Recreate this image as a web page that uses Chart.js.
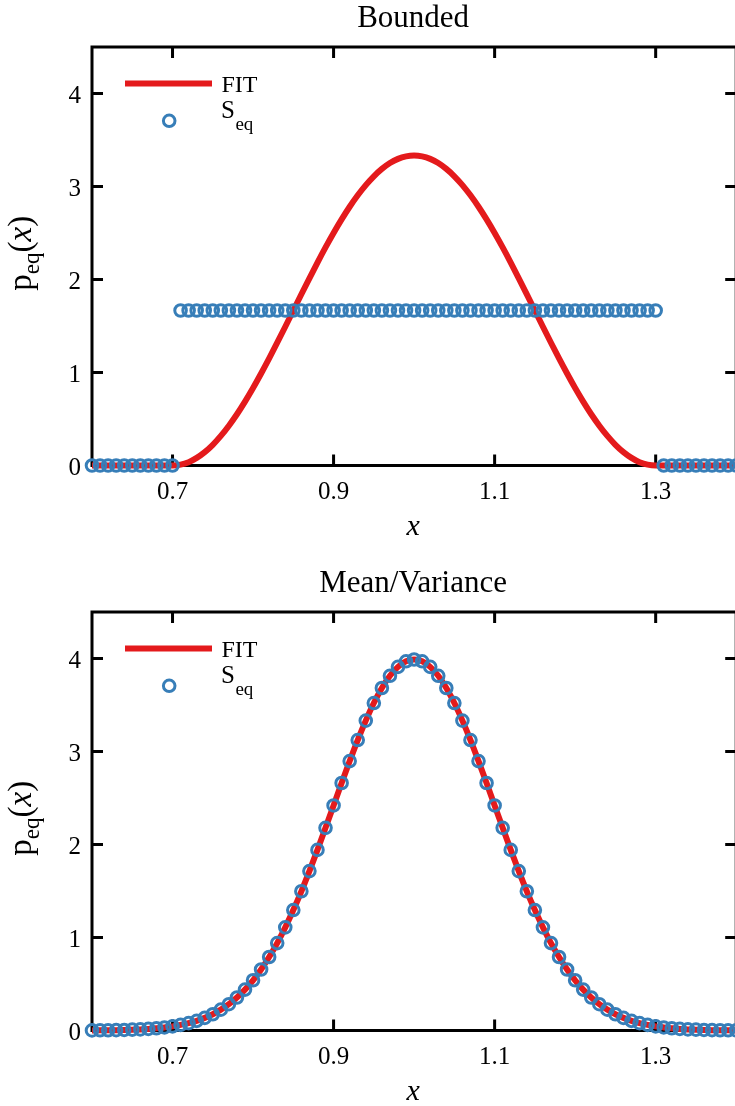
<!DOCTYPE html>
<html>
<head>
<meta charset="utf-8">
<script src="https://cdn.jsdelivr.net/npm/chart.js@4.4.1/dist/chart.umd.min.js"></script>
<style>
  html, body { margin: 0; padding: 0; background: #fff; overflow: hidden; }
  body { width: 735px; height: 1106px; position: relative; }
  .panel { position: absolute; left: 0; }
</style>
</head>
<body>
<canvas id="bounded" class="panel" style="top:0" width="745" height="541"></canvas>
<canvas id="meanvar" class="panel" style="top:565px" width="745" height="541"></canvas>
<script>
// sample grid shared by both panels
const xs = [0.60, 0.61, 0.62, 0.63, 0.64, 0.65, 0.66, 0.67, 0.68, 0.69,
            0.70, 0.71, 0.72, 0.73, 0.74, 0.75, 0.76, 0.77, 0.78, 0.79,
            0.80, 0.81, 0.82, 0.83, 0.84, 0.85, 0.86, 0.87, 0.88, 0.89,
            0.90, 0.91, 0.92, 0.93, 0.94, 0.95, 0.96, 0.97, 0.98, 0.99,
            1.00, 1.01, 1.02, 1.03, 1.04, 1.05, 1.06, 1.07, 1.08, 1.09,
            1.10, 1.11, 1.12, 1.13, 1.14, 1.15, 1.16, 1.17, 1.18, 1.19,
            1.20, 1.21, 1.22, 1.23, 1.24, 1.25, 1.26, 1.27, 1.28, 1.29,
            1.30, 1.31, 1.32, 1.33, 1.34, 1.35, 1.36, 1.37, 1.38, 1.39, 1.40];

// Bounded
const boundedSeq = [0, 0, 0, 0, 0, 0, 0, 0, 0, 0,
                    0, 1.667, 1.667, 1.667, 1.667, 1.667, 1.667, 1.667, 1.667, 1.667,
                    1.667, 1.667, 1.667, 1.667, 1.667, 1.667, 1.667, 1.667, 1.667, 1.667,
                    1.667, 1.667, 1.667, 1.667, 1.667, 1.667, 1.667, 1.667, 1.667, 1.667,
                    1.667, 1.667, 1.667, 1.667, 1.667, 1.667, 1.667, 1.667, 1.667, 1.667,
                    1.667, 1.667, 1.667, 1.667, 1.667, 1.667, 1.667, 1.667, 1.667, 1.667,
                    1.667, 1.667, 1.667, 1.667, 1.667, 1.667, 1.667, 1.667, 1.667, 1.667,
                    1.667, 0, 0, 0, 0, 0, 0, 0, 0, 0, 0];
const boundedFit = [0, 0, 0, 0, 0, 0, 0, 0, 0, 0,
                    0, 0.009, 0.036, 0.082, 0.144, 0.223, 0.318, 0.428, 0.551, 0.687,
                    0.833, 0.989, 1.152, 1.320, 1.492, 1.667, 1.841, 2.013, 2.182, 2.345,
                    2.500, 2.646, 2.782, 2.905, 3.015, 3.110, 3.189, 3.252, 3.297, 3.324,
                    3.333, 3.324, 3.297, 3.252, 3.189, 3.110, 3.015, 2.905, 2.782, 2.646,
                    2.500, 2.345, 2.182, 2.013, 1.841, 1.667, 1.492, 1.320, 1.152, 0.989,
                    0.833, 0.687, 0.551, 0.428, 0.318, 0.223, 0.144, 0.082, 0.036, 0.009,
                    0, 0, 0, 0, 0, 0, 0, 0, 0, 0, 0];

// Mean/Variance
const meanVarSeq = [0.001, 0.002, 0.003, 0.004, 0.006, 0.009, 0.012, 0.017, 0.024, 0.033,
                    0.044, 0.060, 0.079, 0.104, 0.136, 0.175, 0.224, 0.283, 0.355, 0.440,
                    0.540, 0.656, 0.790, 0.940, 1.109, 1.295, 1.497, 1.714, 1.942, 2.179,
                    2.420, 2.661, 2.897, 3.123, 3.332, 3.521, 3.683, 3.814, 3.910, 3.970,
                    3.989, 3.970, 3.910, 3.814, 3.683, 3.521, 3.332, 3.123, 2.897, 2.661,
                    2.420, 2.179, 1.942, 1.714, 1.497, 1.295, 1.109, 0.940, 0.790, 0.656,
                    0.540, 0.440, 0.355, 0.283, 0.224, 0.175, 0.136, 0.104, 0.079, 0.060,
                    0.044, 0.033, 0.024, 0.017, 0.012, 0.009, 0.006, 0.004, 0.003, 0.002, 0.001];
const meanVarFit = [0.001, 0.002, 0.003, 0.004, 0.006, 0.009, 0.012, 0.017, 0.024, 0.033,
                    0.044, 0.060, 0.079, 0.104, 0.136, 0.175, 0.224, 0.283, 0.355, 0.440,
                    0.540, 0.656, 0.790, 0.940, 1.109, 1.295, 1.497, 1.714, 1.942, 2.179,
                    2.420, 2.661, 2.897, 3.123, 3.332, 3.521, 3.683, 3.814, 3.910, 3.970,
                    3.989, 3.970, 3.910, 3.814, 3.683, 3.521, 3.332, 3.123, 2.897, 2.661,
                    2.420, 2.179, 1.942, 1.714, 1.497, 1.295, 1.109, 0.940, 0.790, 0.656,
                    0.540, 0.440, 0.355, 0.283, 0.224, 0.175, 0.136, 0.104, 0.079, 0.060,
                    0.044, 0.033, 0.024, 0.017, 0.012, 0.009, 0.006, 0.004, 0.003, 0.002, 0.001];

const xTicks = [0.7, 0.9, 1.1, 1.3];
const yTicks = [0, 1, 2, 3, 4];

const RED = '#e41a1c';
const BLUE = '#377eb8';
const SERIF = "'Liberation Serif', 'Times New Roman', serif";

function pts(vals) {
  return xs.map((x, i) => ({ x: x, y: vals[i] }));
}

// box, inward ticks, labels, legend
const decor = {
  id: 'decor',
  beforeDatasetsDraw(chart) {
    const ctx = chart.ctx;
    const a = chart.chartArea;
    const sx = chart.scales.x, sy = chart.scales.y;
    ctx.save();
    ctx.strokeStyle = '#000';
    ctx.lineWidth = 3;
    ctx.lineCap = 'butt';
    ctx.beginPath();
    ctx.rect(a.left, a.top, a.right - a.left, a.bottom - a.top);
    sx.ticks.forEach(t => {
      const px = sx.getPixelForValue(t.value);
      ctx.moveTo(px, a.bottom); ctx.lineTo(px, a.bottom - 11);
      ctx.moveTo(px, a.top); ctx.lineTo(px, a.top + 11);
    });
    sy.ticks.forEach(t => {
      const py = sy.getPixelForValue(t.value);
      ctx.moveTo(a.left, py); ctx.lineTo(a.left + 11, py);
      ctx.moveTo(a.right, py); ctx.lineTo(a.right - 11, py);
    });
    ctx.stroke();

    ctx.fillStyle = '#000';
    ctx.font = '25px ' + SERIF;
    ctx.textAlign = 'center';
    ctx.textBaseline = 'alphabetic';
    sx.ticks.forEach(t => {
      ctx.fillText(String(t.value), sx.getPixelForValue(t.value), a.bottom + 33);
    });
    ctx.textAlign = 'right';
    sy.ticks.forEach(t => {
      ctx.fillText(String(t.value), a.left - 11, sy.getPixelForValue(t.value) + 9);
    });

    const cx = (a.left + a.right) / 2;
    ctx.textAlign = 'center';
    ctx.font = '31px ' + SERIF;
    ctx.fillText(chart.options.plugins.decor.title, cx - 1, 27);
    ctx.font = 'italic 30px ' + SERIF;
    ctx.fillText('x', cx - 1, 535);

    // y axis title: p_eq(x), rotated
    ctx.save();
    ctx.translate(31, (a.top + a.bottom) / 2 - 3);
    ctx.rotate(-Math.PI / 2);
    const parts = [
      ['p', '33px ' + SERIF, 0],
      ['eq', '23px ' + SERIF, 8],
      ['(', '33px ' + SERIF, 0],
      ['x', 'italic 33px ' + SERIF, 0],
      [')', '33px ' + SERIF, 0]
    ];
    let total = 0;
    parts.forEach(p => { ctx.font = p[1]; total += ctx.measureText(p[0]).width; });
    let pos = -total / 2;
    ctx.textAlign = 'left';
    parts.forEach(p => {
      ctx.font = p[1];
      ctx.fillText(p[0], pos, p[2]);
      pos += ctx.measureText(p[0]).width;
    });
    ctx.restore();

    // legend
    ctx.strokeStyle = RED;
    ctx.lineWidth = 6;
    ctx.beginPath();
    ctx.moveTo(125, 83.5); ctx.lineTo(212, 83.5);
    ctx.stroke();
    ctx.strokeStyle = BLUE;
    ctx.lineWidth = 3;
    ctx.beginPath();
    ctx.arc(169.2, 120.8, 5.8, 0, Math.PI * 2);
    ctx.stroke();
    ctx.textAlign = 'left';
    ctx.font = '24px ' + SERIF;
    ctx.fillText('FIT', 221.5, 92.3);
    ctx.font = '25px ' + SERIF;
    ctx.fillText('S', 221, 118.3);
    const sw = ctx.measureText('S').width;
    ctx.font = '19px ' + SERIF;
    ctx.fillText('eq', 221 + sw + 0.5, 130);
    ctx.restore();
  }
};

function makePanel(id, title, seq, fit) {
  return new Chart(document.getElementById(id), {
    type: 'scatter',
    data: {
      datasets: [
        {
          label: 'S_eq',
          data: pts(seq),
          showLine: false,
          pointRadius: 5.8,
          pointHoverRadius: 5.8,
          pointBorderWidth: 3,
          pointBorderColor: BLUE,
          pointBackgroundColor: 'rgba(0,0,0,0)',
          clip: false
        },
        {
          label: 'FIT',
          data: pts(fit),
          showLine: true,
          borderColor: RED,
          borderWidth: 6,
          pointRadius: 0,
          cubicInterpolationMode: 'monotone',
          clip: false
        }
      ]
    },
    options: {
      responsive: false,
      animation: false,
      events: [],
      layout: { padding: { top: 47, right: 4.5, bottom: 0, left: 0 } },
      plugins: {
        legend: { display: false },
        tooltip: { enabled: false },
        decor: { title: title }
      },
      scales: {
        x: {
          type: 'linear',
          min: 0.6,
          max: 1.4,
          afterBuildTicks: s => { s.ticks = xTicks.map(v => ({ value: v })); },
          afterFit: s => { s.height = 75.5; },
          ticks: { display: false },
          grid: { display: false },
          border: { display: false }
        },
        y: {
          type: 'linear',
          min: 0,
          max: 4.5,
          afterBuildTicks: s => { s.ticks = yTicks.map(v => ({ value: v })); },
          afterFit: s => { s.width = 92; },
          ticks: { display: false },
          grid: { display: false },
          border: { display: false }
        }
      }
    },
    plugins: [decor]
  });
}

makePanel('bounded', 'Bounded', boundedSeq, boundedFit);
makePanel('meanvar', 'Mean/Variance', meanVarSeq, meanVarFit);
</script>
</body>
</html>
